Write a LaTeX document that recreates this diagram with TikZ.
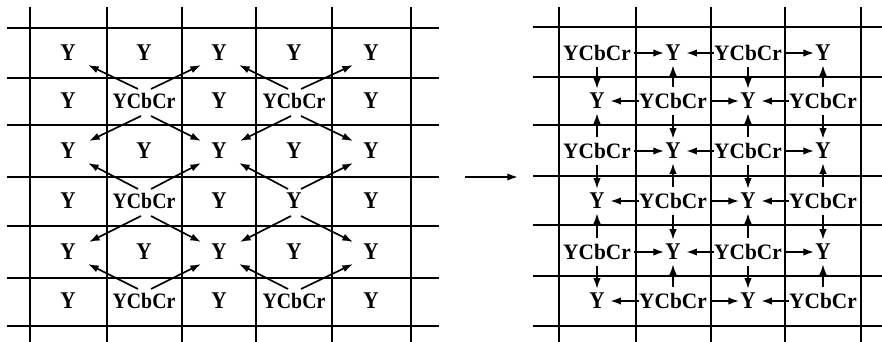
\documentclass[tikz,border=0pt]{standalone}
\usepackage{fontspec}
\setmainfont{Liberation Serif}
\usetikzlibrary{arrows.meta,calc}
\newcommand\narrowtxt[2]{\scalebox{#1}[1]{#2}}
\begin{document}
\begin{tikzpicture}[x=0.75pt,y=-0.75pt,
  gridline/.style={line width=1.3pt},
  ylab/.style={inner sep=0pt,font=\bfseries\fontsize{18}{21}\selectfont},
  clab/.style={inner sep=0pt,font=\bfseries\fontsize{16.5}{19}\selectfont},
  clabr/.style={inner sep=0pt,font=\bfseries\fontsize{16.5}{19}\selectfont},
  arr/.style={line width=1.25pt,-{Latex[length=8pt,width=5.5pt]}},
  rarr/.style={arr,shorten <=2.5pt,shorten >=0.75pt},
  larr/.style={arr,shorten <=0pt,shorten >=4pt},
  varr/.style={arr,shorten <=4.5pt,shorten >=3pt},
]
\useasboundingbox (0,0) rectangle (882,342);
% ---------- left grid ----------
\foreach \yy in {28,78,125,177,226,278,326} \draw[gridline] (7,\yy) -- (439,\yy);
\foreach \xx in {30,107,182,256,332,411} \draw[gridline] (\xx,7) -- (\xx,342);
% rows 1,3,5: all Y
\foreach \r/\yy in {1/53,3/151,5/252}
  \foreach \c/\xx in {1/68,2/144,3/219,4/294,5/371}
    \node[ylab] (L\r\c) at (\xx,\yy) {\narrowtxt{0.88}{Y}};
% rows 2,6
\foreach \r/\yy in {2/101,6/301}{
  \foreach \c/\xx in {1/68,3/219,5/371}
    \node[ylab] (L\r\c) at (\xx,\yy) {\narrowtxt{0.88}{Y}};
  \foreach \c/\xx in {2/144,4/294}
    \node[clab] (L\r\c) at (\xx,\yy) {\narrowtxt{0.9}{YCbCr}};
}
% row 4
\foreach \c/\xx in {1/68,3/219,4/294,5/371}
  \node[ylab] (L4\c) at (\xx,201) {\narrowtxt{0.88}{Y}};
\node[clab] (L42) at (144,201) {\narrowtxt{0.9}{YCbCr}};
% diagonal arrows
\foreach \r/\c in {2/2,2/4,4/2,4/4,6/2,6/4}{
  \pgfmathtruncatemacro\ru{\r-1}
  \pgfmathtruncatemacro\rd{\r+1}
  \pgfmathtruncatemacro\ca{\c-1}
  \pgfmathtruncatemacro\cb{\c+1}
  \draw[arr] ($(L\r\c)+(-6,-12)$) -- ($(L\ru\ca)+(20,12)$);
  \draw[arr] ($(L\r\c)+(7,-12)$) -- ($(L\ru\cb)+(-18,12)$);
  \ifnum\r<6
    \draw[arr] ($(L\r\c)+(-3,15)$) -- ($(L\rd\ca)+(21,-10)$);
    \draw[arr] ($(L\r\c)+(7,15)$) -- ($(L\rd\cb)+(-18,-10)$);
  \fi
}
% ---------- middle arrow ----------
\coordinate (m0) at (465,177);
\coordinate (m1) at (518,177);
\draw[arr,line width=1.3pt] (m0) -- (m1);
% ---------- right grid ----------
\foreach \yy in {27,77,125,176,225,276,326} \draw[gridline] (533,\yy) -- (882,\yy);
\foreach \xx in {559,636,711,785,861} \draw[gridline] (\xx,7) -- (\xx,342);
\foreach \r/\yy in {1/53,3/151,5/252}{
  \node[clabr] (R\r1) at (597,\yy) {\narrowtxt{0.97}{YCbCr}};
  \node[ylab]  (R\r2) at (673,\yy) {\narrowtxt{0.88}{Y}};
  \node[clabr] (R\r3) at (748,\yy) {\narrowtxt{0.97}{YCbCr}};
  \node[ylab]  (R\r4) at (823,\yy) {\narrowtxt{0.88}{Y}};
  \draw[rarr] (R\r1.east) -- (R\r2.west);
  \draw[larr] (R\r3.west) -- (R\r2.east);
  \draw[rarr] (R\r3.east) -- (R\r4.west);
}
\foreach \r/\yy in {2/101,4/201,6/301}{
  \node[ylab]  (R\r1) at (597,\yy) {\narrowtxt{0.88}{Y}};
  \node[clabr] (R\r2) at (673,\yy) {\narrowtxt{0.97}{YCbCr}};
  \node[ylab]  (R\r3) at (748,\yy) {\narrowtxt{0.88}{Y}};
  \node[clabr] (R\r4) at (823,\yy) {\narrowtxt{0.97}{YCbCr}};
  \draw[larr] (R\r2.west) -- (R\r1.east);
  \draw[rarr] (R\r2.east) -- (R\r3.west);
  \draw[larr] (R\r4.west) -- (R\r3.east);
}
% vertical arrows
\foreach \c in {1,3}{
  \draw[varr] (R1\c.south) -- (R2\c.north);
  \draw[varr] (R3\c.north) -- (R2\c.south);
  \draw[varr] (R3\c.south) -- (R4\c.north);
  \draw[varr] (R5\c.north) -- (R4\c.south);
  \draw[varr] (R5\c.south) -- (R6\c.north);
}
\foreach \c in {2,4}{
  \draw[varr] (R2\c.north) -- (R1\c.south);
  \draw[varr] (R2\c.south) -- (R3\c.north);
  \draw[varr] (R4\c.north) -- (R3\c.south);
  \draw[varr] (R4\c.south) -- (R5\c.north);
  \draw[varr] (R6\c.north) -- (R5\c.south);
}
\end{tikzpicture}
\end{document}
